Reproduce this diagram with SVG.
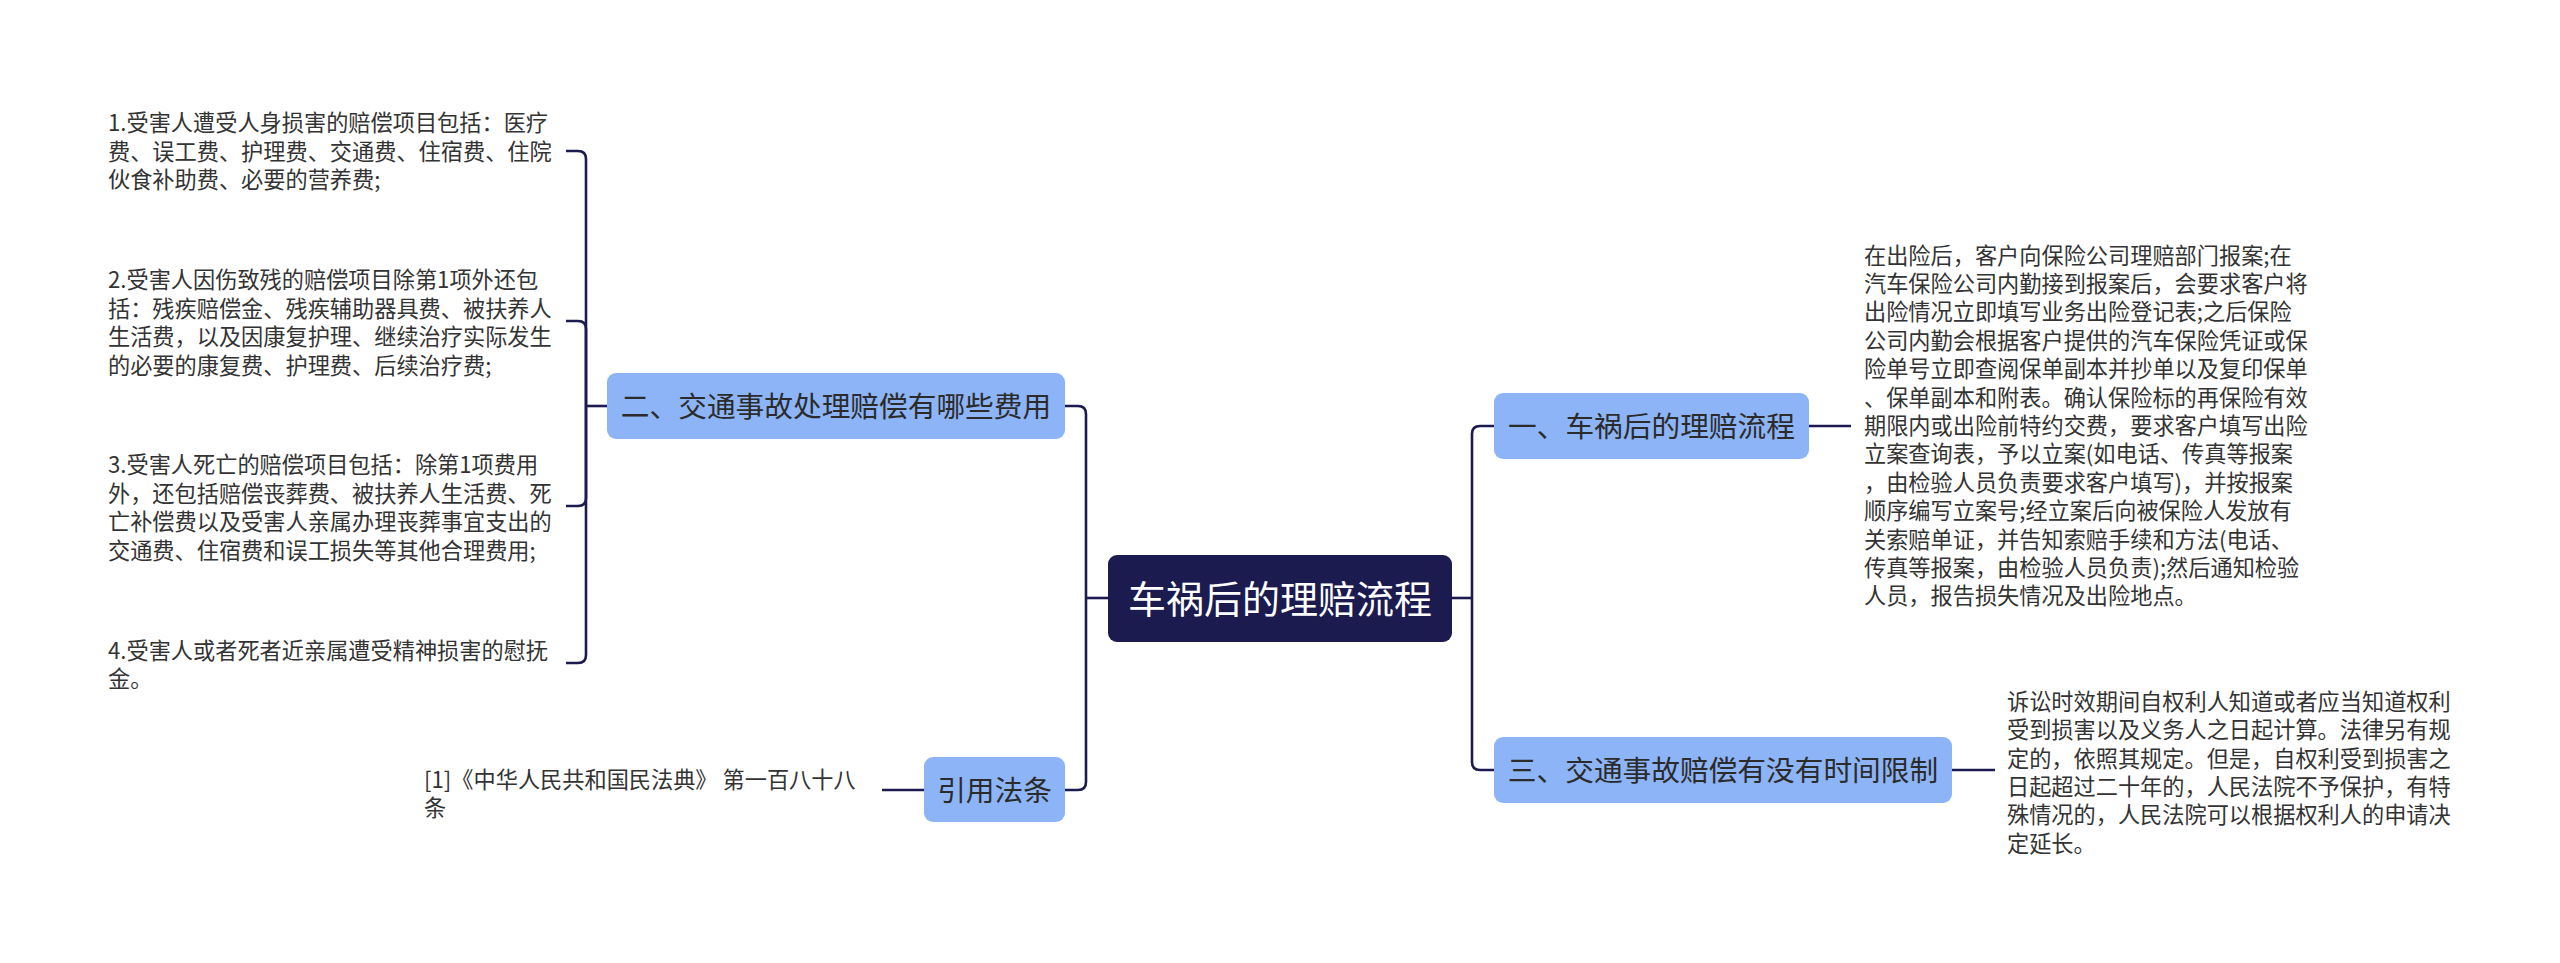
<svg xmlns="http://www.w3.org/2000/svg" width="2560" height="963" viewBox="0 0 2560 963">
<style>
.bg{fill:#ffffff}
.conn path{fill:none;stroke:#1c1b50;stroke-width:2.6;stroke-linecap:butt}
.sub rect{fill:#8cb4f6}
.sub text{font-family:"Noto Sans CJK SC","Noto Sans",sans-serif;font-size:28.7px;fill:#2b2b2b;text-anchor:middle}
.root rect{fill:#1c1b50}
.root text{font-family:"Noto Sans CJK SC","Noto Sans",sans-serif;font-size:38px;fill:#ffffff;text-anchor:middle}
.leaf text{font-family:"Noto Sans CJK SC","Noto Sans",sans-serif;font-size:22.2px;fill:#333333}
</style>
<rect class="bg" x="0" y="0" width="2560" height="963"/>
<g id="connectors" class="conn">
<path d="M1108,598 H1086"/>
<path d="M1065,406 H1078 Q1086,406 1086,414 V598"/>
<path d="M1065,790 H1078 Q1086,790 1086,782 V598"/>
<path d="M1452,598 H1472"/>
<path d="M1494,426 H1480 Q1472,426 1472,434 V598"/>
<path d="M1494,770 H1480 Q1472,770 1472,762 V598"/>
<path d="M1809,426 H1851"/>
<path d="M1952,770 H1995"/>
<path d="M924,790 H882"/>
<path d="M607,406 H586"/>
<path d="M566,151 H578 Q586,151 586,159 V406"/>
<path d="M566,321 H578 Q586,321 586,329 V406"/>
<path d="M566,506 H578 Q586,506 586,498 V406"/>
<path d="M566,663 H578 Q586,663 586,655 V406"/>
</g>
<g id="root" class="root">
<rect x="1108" y="555" width="344" height="87" rx="9"/>
<text x="1280" y="613">车祸后的理赔流程</text>
</g>
<g id="node-fees" class="sub">
<rect x="607" y="373" width="458" height="66" rx="9"/>
<text x="836" y="417">二、交通事故处理赔偿有哪些费用</text>
</g>
<g id="node-law" class="sub">
<rect x="924" y="757" width="141" height="65" rx="9"/>
<text x="994.5" y="801">引用法条</text>
</g>
<g id="node-process" class="sub">
<rect x="1494" y="393" width="315" height="66" rx="9"/>
<text x="1651.5" y="437">一、车祸后的理赔流程</text>
</g>
<g id="node-limit" class="sub">
<rect x="1494" y="737" width="458" height="66" rx="9"/>
<text x="1723" y="781">三、交通事故赔偿有没有时间限制</text>
</g>
<g id="leaf-fee1" class="leaf">
<text x="108" y="131"><tspan x="108">1.受害人遭受人身损害的赔偿项目包括：医疗</tspan><tspan x="108" dy="28.5">费、误工费、护理费、交通费、住宿费、住院</tspan><tspan x="108" dy="28.5">伙食补助费、必要的营养费;</tspan></text>
</g>
<g id="leaf-fee2" class="leaf">
<text x="108" y="288"><tspan x="108">2.受害人因伤致残的赔偿项目除第1项外还包</tspan><tspan x="108" dy="28.5">括：残疾赔偿金、残疾辅助器具费、被扶养人</tspan><tspan x="108" dy="28.5">生活费，以及因康复护理、继续治疗实际发生</tspan><tspan x="108" dy="28.5">的必要的康复费、护理费、后续治疗费;</tspan></text>
</g>
<g id="leaf-fee3" class="leaf">
<text x="108" y="473"><tspan x="108">3.受害人死亡的赔偿项目包括：除第1项费用</tspan><tspan x="108" dy="28.5">外，还包括赔偿丧葬费、被扶养人生活费、死</tspan><tspan x="108" dy="28.5">亡补偿费以及受害人亲属办理丧葬事宜支出的</tspan><tspan x="108" dy="28.5">交通费、住宿费和误工损失等其他合理费用;</tspan></text>
</g>
<g id="leaf-fee4" class="leaf">
<text x="108" y="658.5"><tspan x="108">4.受害人或者死者近亲属遭受精神损害的慰抚</tspan><tspan x="108" dy="28.5">金。</tspan></text>
</g>
<g id="leaf-law" class="leaf">
<text x="424" y="788"><tspan x="424">[1]《中华人民共和国民法典》 第一百八十八</tspan><tspan x="424" dy="28">条</tspan></text>
</g>
<g id="leaf-process" class="leaf">
<text x="1864" y="263.5"><tspan x="1864">在出险后，客户向保险公司理赔部门报案;在</tspan><tspan x="1864" dy="28.4">汽车保险公司内勤接到报案后，会要求客户将</tspan><tspan x="1864" dy="28.4">出险情况立即填写业务出险登记表;之后保险</tspan><tspan x="1864" dy="28.4">公司内勤会根据客户提供的汽车保险凭证或保</tspan><tspan x="1864" dy="28.4">险单号立即查阅保单副本并抄单以及复印保单</tspan><tspan x="1864" dy="28.4">、保单副本和附表。确认保险标的再保险有效</tspan><tspan x="1864" dy="28.4">期限内或出险前特约交费，要求客户填写出险</tspan><tspan x="1864" dy="28.4">立案查询表，予以立案(如电话、传真等报案</tspan><tspan x="1864" dy="28.4">，由检验人员负责要求客户填写)，并按报案</tspan><tspan x="1864" dy="28.4">顺序编写立案号;经立案后向被保险人发放有</tspan><tspan x="1864" dy="28.4">关索赔单证，并告知索赔手续和方法(电话、</tspan><tspan x="1864" dy="28.4">传真等报案，由检验人员负责);然后通知检验</tspan><tspan x="1864" dy="28.4">人员，报告损失情况及出险地点。</tspan></text>
</g>
<g id="leaf-limit" class="leaf">
<text x="2007" y="710"><tspan x="2007">诉讼时效期间自权利人知道或者应当知道权利</tspan><tspan x="2007" dy="28.3">受到损害以及义务人之日起计算。法律另有规</tspan><tspan x="2007" dy="28.3">定的，依照其规定。但是，自权利受到损害之</tspan><tspan x="2007" dy="28.3">日起超过二十年的，人民法院不予保护，有特</tspan><tspan x="2007" dy="28.3">殊情况的，人民法院可以根据权利人的申请决</tspan><tspan x="2007" dy="28.3">定延长。</tspan></text>
</g>
</svg>
